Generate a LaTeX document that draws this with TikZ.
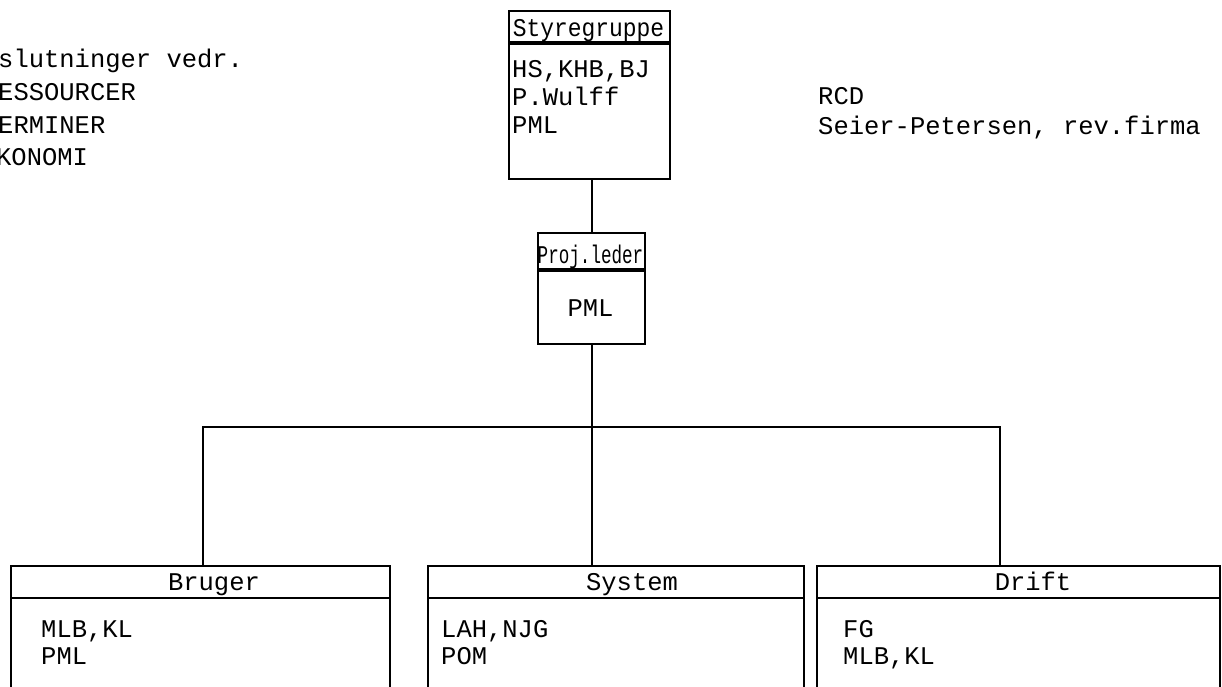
\documentclass[tikz,border=0pt]{standalone}
\usepackage{fontspec}
\usepackage{graphicx}
\setmonofont{Liberation Mono}
\begin{document}
\begin{tikzpicture}[x=1pt,y=-1pt,
  txt/.style={font=\fontsize{25.5}{30}\selectfont\ttfamily, inner sep=0pt, anchor=base west},
  ctxt/.style={font=\fontsize{25.5}{30}\selectfont\ttfamily, inner sep=0pt, anchor=base},
  boxn/.style={draw, line width=1.9pt, inner sep=0pt, anchor=north west},
  divider/.style={line width=2pt},
  hdivider/.style={line width=3.2pt},
  conn/.style={line width=2.2pt}]
\useasboundingbox (0,0) rectangle (1222,687);
\clip (0,0) rectangle (1222,687);

% left notes
\node[txt] (n1) at (-2,68) {slutninger vedr.};
\node[txt] (n2) at (-2,101) {ESSOURCER};
\node[txt] (n3) at (-2,134) {ERMINER};
\node[txt] (n4) at (-4,166) {KONOMI};

% right notes
\node[txt] (r1) at (818,105) {RCD};
\node[txt] (r2) at (818,135) {Seier-Petersen, rev.firma};

% Styregruppe
\node[boxn, minimum width=161pt, minimum height=168pt] (sty) at (508,10) {};
\draw[hdivider] ([yshift=-33pt]sty.north west) -- ([yshift=-33pt]sty.north east);
\node[ctxt] (styh) at (588.5,37) {\scalebox{0.9}[1]{Styregruppe}};
\node[txt] (sty1) at (512,78) {HS,KHB,BJ};
\node[txt] (sty2) at (512,106) {P.Wulff};
\node[txt] (sty3) at (512,134) {PML};

% Proj.leder
\node[boxn, minimum width=107pt, minimum height=111pt] (pl) at (537,232) {};
\draw[hdivider] ([yshift=-38pt]pl.north west) -- ([yshift=-38pt]pl.north east);
\node[ctxt] (plh) at (590.5,263) {\scalebox{0.69}[1]{Proj.leder}};
\node[ctxt] (pl1) at (590.5,316) {PML};

% bottom boxes
\node[boxn, minimum width=379pt, minimum height=140pt] (bru) at (10,565) {};
\draw[divider] ([yshift=-33pt]bru.north west) -- ([yshift=-33pt]bru.north east);
\node[ctxt] (bruh) at (214,590) {Bruger};
\node[txt] (bru1) at (41,637) {MLB,KL};
\node[txt] (bru2) at (41,664) {PML};

\node[boxn, minimum width=376pt, minimum height=140pt] (sys) at (427,565) {};
\draw[divider] ([yshift=-33pt]sys.north west) -- ([yshift=-33pt]sys.north east);
\node[ctxt] (sysh) at (632,590) {System};
\node[txt] (sys1) at (441,637) {LAH,NJG};
\node[txt] (sys2) at (441,664) {POM};

\node[boxn, minimum width=403pt, minimum height=140pt] (dri) at (816,565) {};
\draw[divider] ([yshift=-33pt]dri.north west) -- ([yshift=-33pt]dri.north east);
\node[ctxt] (drih) at (1033,590) {Drift};
\node[txt] (dri1) at (843,637) {FG};
\node[txt] (dri2) at (843,664) {MLB,KL};

% connectors
\coordinate (bl) at (203,427);
\coordinate (bc) at (592,427);
\coordinate (br) at (1000,427);
\draw[conn] (sty.south -| bc) -- (pl.north -| bc);
\draw[conn] (pl.south -| bc) -- (bc);
\draw[conn] (bru.north -| bl) -- (bl) -- (br) -- (dri.north -| br);
\draw[conn] (bc) -- (sys.north -| bc);
\end{tikzpicture}
\end{document}
